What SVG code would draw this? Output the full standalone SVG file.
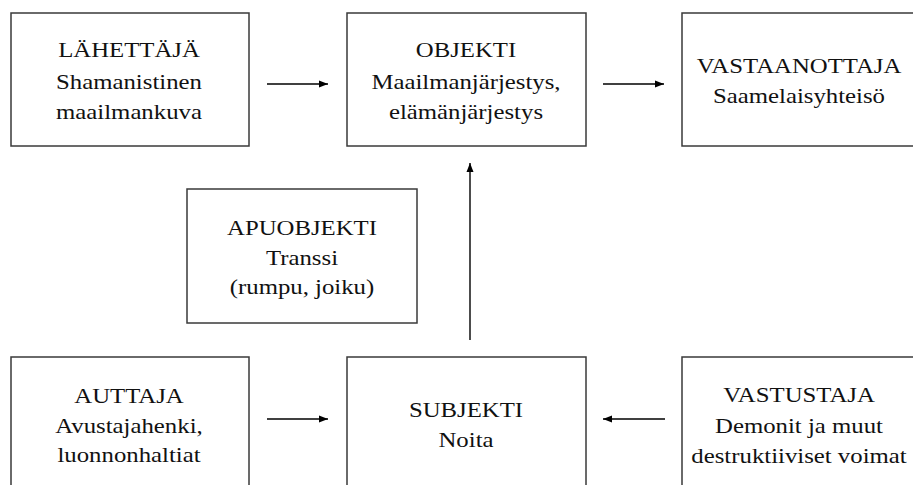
<svg xmlns="http://www.w3.org/2000/svg" width="913" height="485" viewBox="0 0 913 485" font-family="Liberation Serif, DejaVu Serif, serif">
<style>
rect.box{fill:#fff;stroke:#3a3a3a;stroke-width:1.5}
text{font-size:21px;fill:#111;text-anchor:middle}
.conn line{stroke:#000;stroke-width:1.4}
</style>
<defs>
<marker id="ah" markerUnits="userSpaceOnUse" markerWidth="10" markerHeight="8" refX="9" refY="4" orient="auto">
<path d="M0,0.5 L9,4 L0,7.5 z" fill="#000"/>
</marker>
</defs>
<rect width="913" height="485" fill="#fff"/>
<g id="lahettaja">
<rect class="box" x="11" y="13" width="238" height="133"/>
<text transform="translate(129 0) scale(1.18 1)" y="57.5">LÄHETTÄJÄ</text>
<text transform="translate(129 0) scale(1.18 1)" y="89">Shamanistinen</text>
<text transform="translate(129 0) scale(1.18 1)" y="119.5">maailmankuva</text>
</g>
<g id="objekti">
<rect class="box" x="347" y="13" width="239" height="133"/>
<text transform="translate(466 0) scale(1.18 1)" y="57.5">OBJEKTI</text>
<text transform="translate(466 0) scale(1.18 1)" y="89">Maailmanjärjestys,</text>
<text transform="translate(466 0) scale(1.18 1)" y="119.5">elämänjärjestys</text>
</g>
<g id="vastaanottaja">
<rect class="box" x="682" y="13" width="240" height="133"/>
<text transform="translate(799 0) scale(1.18 1)" y="73.5">VASTAANOTTAJA</text>
<text transform="translate(799 0) scale(1.18 1)" y="103">Saamelaisyhteisö</text>
</g>
<g id="apuobjekti">
<rect class="box" x="187" y="189" width="230" height="134"/>
<text transform="translate(302 0) scale(1.18 1)" y="235">APUOBJEKTI</text>
<text transform="translate(302 0) scale(1.18 1)" y="265">Transsi</text>
<text transform="translate(302 0) scale(1.18 1)" y="294">(rumpu, joiku)</text>
</g>
<g id="auttaja">
<rect class="box" x="11" y="357" width="238" height="140"/>
<text transform="translate(129 0) scale(1.18 1)" y="403">AUTTAJA</text>
<text transform="translate(129 0) scale(1.18 1)" y="433">Avustajahenki,</text>
<text transform="translate(129 0) scale(1.18 1)" y="462">luonnonhaltiat</text>
</g>
<g id="subjekti">
<rect class="box" x="347" y="357" width="239" height="140"/>
<text transform="translate(466 0) scale(1.18 1)" y="417">SUBJEKTI</text>
<text transform="translate(466 0) scale(1.18 1)" y="447">Noita</text>
</g>
<g id="vastustaja">
<rect class="box" x="682" y="357" width="240" height="140"/>
<text transform="translate(799 0) scale(1.18 1)" y="402">VASTUSTAJA</text>
<text transform="translate(799 0) scale(1.18 1)" y="433">Demonit ja muut</text>
<text transform="translate(799 0) scale(1.18 1)" y="463">destruktiiviset voimat</text>
</g>
<g class="conn" id="connectors">
<line x1="267" y1="84" x2="328" y2="84" marker-end="url(#ah)"/>
<line x1="603" y1="84" x2="664" y2="84" marker-end="url(#ah)"/>
<line x1="470" y1="340" x2="470" y2="163" marker-end="url(#ah)"/>
<line x1="267" y1="419" x2="328" y2="419" marker-end="url(#ah)"/>
<line x1="665" y1="419" x2="603" y2="419" marker-end="url(#ah)"/>
</g>
</svg>
